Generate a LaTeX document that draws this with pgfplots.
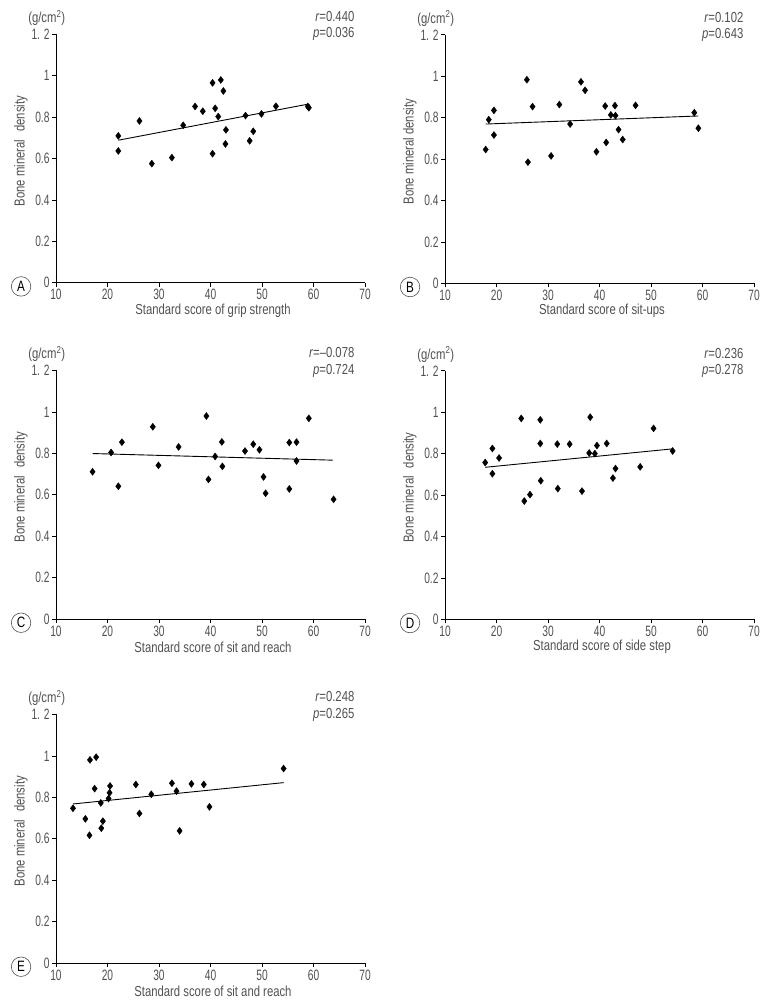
\documentclass[border=0pt]{standalone}
\usepackage{fontspec}
\setmainfont[FakeStretch=0.78]{Liberation Sans}
\newfontfamily\tickfont[FakeStretch=0.68]{Liberation Sans}
\usepackage{pgfplots}
\pgfplotsset{compat=1.18}
\definecolor{txt}{HTML}{505050}
\newcommand{\lblfont}{\fontsize{14.5}{16}\selectfont}

\pgfplotsset{panel/.style={
  scale only axis, width=309pt, height=248.5pt,
  xmin=10, xmax=70, ymin=0, ymax=1.2,
  axis x line*=bottom, axis y line*=left,
  axis line style={-, line width=0.8pt, black},
  xtick={10,20,30,40,50,60,70},
  xticklabels={10,20,30,40,50,60,70},
  ytick={0,0.2,0.4,0.6,0.8,1,1.2},
  yticklabels={0,0.2,0.4,0.6,0.8,1,1. 2},
  tick align=outside, major tick length=4pt,
  tick style={black, line width=0.7pt},
  ticklabel style={font=\tickfont\fontsize{15}{16}\selectfont, text=txt},
  xticklabel style={yshift=1pt},
  yticklabel style={xshift=1pt},
  label style={font=\lblfont, text=txt},
  xlabel style={at={(axis description cs:0.508,-0.112)}, anchor=center},
  ylabel style={at={(axis description cs:-0.114,0.53)}, anchor=center},
  clip=false,
  every axis plot/.append style={black},
}}
\pgfplotsset{dots/.style={only marks, mark=diamond*, mark size=3.5pt, black, mark options={fill=black}},
  fit/.style={no marks, black, line width=0.9pt}}
\newcommand{\stats}[2]{%
  \node[anchor=east, font=\lblfont, text=txt] at (axis description cs:0.977,1.071) {\textit{r}=#1};
  \node[anchor=east, font=\lblfont, text=txt] at (axis description cs:0.977,1.0) {\textit{p}=#2};
  \node[font=\lblfont, text=txt] at (axis description cs:-0.03,1.066) {(g/cm\textsuperscript{2})};}
\newcommand{\panellabel}[1]{%
  \node[circle, draw=txt, line width=0.6pt, inner sep=0pt, minimum size=19.5pt, font=\fontsize{15}{16}\selectfont, text=black] at (axis description cs:-0.113,-0.015) {#1};}

\begin{document}
\begin{tikzpicture}
\useasboundingbox (0,0) rectangle (768pt,1004pt);

% Panel A
\begin{axis}[panel, at={(56pt,721.3pt)}, anchor=south west,
  xlabel={Standard score of grip strength}, ylabel={Bone mineral\hspace{0.55em}density}]
\addplot[dots] table {
22.1 0.709
22.1 0.636
26.2 0.781
28.6 0.575
32.5 0.604
34.7 0.760
37.0 0.851
38.5 0.828
40.4 0.965
40.9 0.842
40.4 0.623
42.0 0.979
41.5 0.802
42.5 0.926
43.0 0.738
42.9 0.670
46.8 0.807
47.6 0.685
48.3 0.731
49.9 0.815
52.7 0.852
58.9 0.851
59.1 0.845
};
\addplot[fit] coordinates {(22.1,0.688) (58.9,0.862)};
\stats{0.440}{0.036}
\panellabel{A}
\end{axis}

% Panel B
\begin{axis}[panel, at={(445pt,720.7pt)}, anchor=south west,
  xlabel={Standard score of sit-ups}, ylabel={Bone mineral density}]
\addplot[dots] table {
17.9 0.646
18.5 0.790
19.5 0.835
19.5 0.716
25.9 0.983
26.1 0.585
27.0 0.853
30.6 0.615
32.2 0.863
34.3 0.769
36.4 0.973
37.2 0.932
39.4 0.635
41.1 0.856
41.3 0.680
42.2 0.813
43.0 0.858
43.1 0.810
43.7 0.742
44.5 0.694
47.0 0.859
58.4 0.824
59.2 0.749
};
\addplot[fit] coordinates {(17.9,0.769) (59.2,0.808)};
\stats{0.102}{0.643}
\panellabel{B}
\end{axis}

% Panel C
\begin{axis}[panel, at={(56pt,385pt)}, anchor=south west,
  xlabel={Standard score of sit and reach}, ylabel={Bone mineral\hspace{0.55em}density}]
\addplot[dots] table {
17.1 0.711
20.7 0.804
22.1 0.641
22.8 0.854
28.8 0.928
29.9 0.742
33.8 0.831
39.2 0.980
39.6 0.674
40.9 0.785
42.2 0.855
42.3 0.737
46.7 0.811
48.3 0.844
49.5 0.817
50.3 0.686
50.7 0.607
55.3 0.852
55.3 0.628
56.7 0.854
56.7 0.763
59.1 0.969
63.9 0.578
};
\addplot[fit] coordinates {(17.1,0.799) (63.7,0.767)};
\stats{--0.078}{0.724}
\panellabel{C}
\end{axis}

% Panel D
\begin{axis}[panel, at={(445pt,384.7pt)}, anchor=south west,
  xlabel={Standard score of side step}, ylabel={Bone mineral\hspace{0.55em}density}]
\addplot[dots] table {
17.8 0.757
19.2 0.825
19.2 0.703
20.5 0.779
24.8 0.970
25.4 0.571
26.5 0.602
28.5 0.963
28.5 0.849
28.6 0.669
31.8 0.846
31.9 0.631
34.2 0.846
36.6 0.619
38.0 0.803
38.2 0.976
39.1 0.800
39.5 0.839
41.4 0.849
42.6 0.682
43.1 0.728
47.9 0.736
50.5 0.922
54.2 0.813
};
\addplot[fit] coordinates {(17.8,0.734) (54.2,0.823)};
\stats{0.236}{0.278}
\panellabel{D}
\end{axis}

% Panel E
\begin{axis}[panel, at={(56pt,41pt)}, anchor=south west,
  xlabel={Standard score of sit and reach}, ylabel={Bone mineral\hspace{0.55em}density}]
\addplot[dots] table {
13.3 0.747
15.7 0.696
16.5 0.617
16.6 0.981
17.5 0.842
17.8 0.994
18.7 0.773
18.8 0.651
19.1 0.685
20.2 0.794
20.4 0.822
20.5 0.855
25.5 0.862
26.2 0.722
28.5 0.815
32.5 0.868
33.4 0.830
34.0 0.638
36.3 0.865
38.7 0.862
39.8 0.754
54.2 0.939
};
\addplot[fit] coordinates {(13.3,0.768) (54.2,0.871)};
\stats{0.248}{0.265}
\panellabel{E}
\end{axis}
\end{tikzpicture}
\end{document}
